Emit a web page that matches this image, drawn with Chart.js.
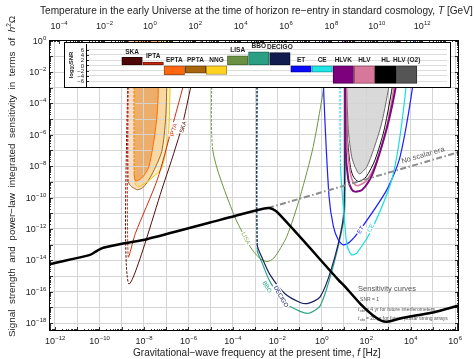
<!DOCTYPE html>
<html>
<head>
<meta charset="utf-8">
<script src="https://cdn.jsdelivr.net/npm/chart.js@4.4.0/dist/chart.umd.min.js"></script>
<style>
  html, body { margin: 0; padding: 0; background: #fff; }
  #wrap { position: relative; width: 474px; height: 359px; }
  #main { position: absolute; left: 0; top: 0; }
  #inset { position: absolute; left: 64px; top: 42px; width: 385px; height: 44px; border: 1px solid #000; background: #fff; }
</style>
</head>
<body>
<div id="wrap">
  <canvas id="main" width="474" height="359"></canvas>
  <div id="inset"><canvas id="bars" width="385" height="44"></canvas></div>
</div>
<script>
const FONT = '"Liberation Sans", Arial, sans-serif';

// all curves as log10(f / Hz) and log10(h^2 Omega)
const blackLogF = [-12.27, -11.92, -10.42, -10.11, -9.83, -8.85, -7.87, -5.02, -3.9, -2.41, -2.02, 0.75, 1.06, 1.74, 2.3, 2.7, 3.0, 3.53, 4.3, 5.01, 6.18];
const blackLogO = [-14.25, -14.14, -13.65, -13.39, -13.2, -12.9, -12.65, -11.59, -11.17, -10.66, -10.9, -15.24, -15.69, -16.77, -17.5, -17.85, -17.9, -17.7, -17.5, -17.32, -16.88];

const noScalarLogF = [-2.41, 6.18];
const noScalarLogO = [-10.66, -7.1];

const skaLogF = [-8.70, -8.70, -7.05, -6.29, -5.87, -5.4];
const skaLogO = [0.1, -15.45, -8.87, -5.48, -2.82, 0.1];
const iptaLogF = [-8.71, -8.71, -8.38, -7.40, -6.73, -6.22, -5.75];
const iptaLogO = [0.1, -13.76, -12.27, -8.87, -5.5, -2.82, 0.1];
const eptaLogF = [-8.44, -8.44, -8.37, -8.10, -7.80, -7.58, -7.42, -7.36, -7.32];
const eptaLogO = [0.1, -8.5, -8.94, -8.76, -8.13, -6.64, -4.94, -3.5, 0.1];
const pptaLogF = [-8.70, -8.70, -8.55, -8.28, -8.0, -7.65, -7.20, -7.02, -6.97, -6.95];
const pptaLogO = [0.1, -9.0, -9.3, -9.5, -9.3, -8.55, -7.07, -4.94, -2.82, 0.1];
const nngLogF = [-8.40, -8.40, -8.25, -7.95, -7.60, -7.20, -6.90, -6.82, -6.80];
const nngLogO = [0.1, -9.1, -9.3, -9.1, -8.7, -8.13, -6.0, -2.82, 0.1];

const lisaLogF = [-4.90, -4.90, -3.98, -3.22, -2.8, -2.47, -2.15, -1.57, -0.97, -0.38, 0.15, 0.38];
const lisaLogO = [0.1, -6.96, -10.99, -13.12, -13.85, -14.08, -13.85, -12.48, -9.94, -6.75, -2.5, 0.1];
const bboLogF = [-2.90, -2.90, -2.68, -2.32, -1.65, -0.97, -0.57, -0.07, 0.45, 0.97, 1.05, 1.07];
const bboLogO = [0.1, -13.33, -14.16, -15.37, -16.71, -17.25, -17.37, -16.9, -14.73, -11.63, -10.15, 0.1];
const decigoLogF = [-2.90, -2.90, -2.68, -2.32, -1.65, -0.97, -0.61, -0.07, 0.45, 0.94, 1.03, 1.05];
const decigoLogO = [0.1, -13.01, -13.84, -14.92, -16.13, -16.68, -16.74, -16.33, -14.48, -11.61, -9.51, 0.1];

const etLogF = [0.05, 0.07, 0.33, 0.53, 0.75, 0.97, 1.25, 1.73, 2.93, 3.53, 4.13, 4.16];
const etLogO = [0.1, -2.5, -9.9, -11.85, -12.7, -13.01, -12.85, -12.06, -9.51, -7.39, -2.5, 0.1];
const ceLogF = [0.83, 0.85, 1.05, 1.15, 1.35, 1.6, 2.32, 3.23, 3.83, 3.85];
const ceLogO = [0.1, -8.0, -11.85, -13.1, -13.65, -13.5, -11.85, -8.45, -2.5, 0.1];
const hlvkLogF = [1.04, 1.08, 1.20, 1.34, 1.50, 1.82, 2.27, 2.72, 3.08, 3.38, 3.53];
const hlvkLogO = [0.1, -6.96, -8.87, -9.45, -9.62, -9.51, -8.55, -6.64, -4.73, -2.5, 0.1];
const hlvLogF = [1.08, 1.14, 1.28, 1.41, 1.60, 2.0, 2.45, 2.90, 3.30, 3.48];
const hlvLogO = [0.1, -6.32, -8.36, -9.0, -9.25, -8.94, -7.79, -5.69, -2.5, 0.1];
const hlLogF = [1.08, 1.14, 1.28, 1.41, 1.65, 2.0, 2.40, 2.81, 3.23, 3.44];
const hlLogO = [0.1, -5.69, -7.92, -8.62, -8.98, -8.68, -7.6, -5.69, -2.5, 0.1];
const o2LogF = [1.12, 1.12, 1.20, 1.35, 1.50, 1.70, 2.03, 2.33, 2.70, 3.08, 3.35];
const o2LogO = [0.1, -2.5, -5.69, -7.39, -8.04, -8.49, -8.03, -6.96, -5.26, -2.5, 0.1];

// axis ranges (log10) and labelled decades
const freqRange = [-12.27, 6.18];
const tempRange = [-4.44, 13.63];
const omegaRange = [-18.5, 0.04];
const freqLabels = [-12, -10, -8, -6, -4, -2, 0, 2, 4, 6];
const tempLabels = [-4, -2, 0, 2, 4, 6, 8, 10, 12];
const omegaLabels = [0, -2, -4, -6, -8, -10, -12, -14, -16, -18];

// labels written along the curves: text, log f, log Omega, angle
const curveTags = [
  ['IPTA', -6.67, -5.69, -75, '#d42a0c'],
  ['SKA', -6.24, -5.5, -75, '#5a0b0b'],
  ['LISA', -3.41, -12.59, 63, '#8aab5c'],
  ['BBO', -2.46, -15.69, 60, '#2ea486'],
  ['DECIGO', -1.83, -16.3, 60, '#1a2160'],
  ['ET', 1.75, -12.06, -56, '#1f1fff'],
  ['CE', 2.2, -11.93, -60, '#19d0d0']
];

// inset: log10 SNR ranges per experiment
const expNames = ['SKA', 'IPTA', 'EPTA', 'PPTA', 'NNG', 'LISA', 'BBO', 'DECIGO', 'ET', 'CE', 'HLVK', 'HLV', 'HL', 'HLV (O2)'];
const snrLow = [0, 0, -3.7, -3.0, -3.5, 0, 0, 0, -2.6, -2.6, -6.9, -6.9, -6.9, -6.9];
const snrHigh = [3.1, 1.3, 0, 0, 0, 3.7, 5.2, 4.9, 0, 0, 0, 0, 0, 0];
const snrTicks = [-6, -4, -2, 0, 2, 4, 6];
const barFill = ['#4d0707', '#c6280e', '#ff660f', '#a8650c', '#ffd21e', '#6a9141', '#2b9f84', '#131c4f', '#0a0aff', '#1fe6e6', '#7d007d', '#d7779a', '#000000', '#555555'];
const barEdge = ['#2a0303', '#7a1806', '#9a4a1a', '#6a4008', '#a88a30', '#4a6a2e', '#1c6a58', '#0a0f30', '#0000a0', '#109a9a', '#4d004d', '#8a4a60', '#000000', '#333333'];

const pts = (lf, lo) => lf.map((v, i) => ({ x: 10 ** v, y: 10 ** lo[i] }));
const wallDash = ctx => ctx.p0DataIndex === 0 ? [2.5, 1.5] : undefined;

function curve(label, lf, lo, color, width, extra) {
  return Object.assign({
    label, data: pts(lf, lo), borderColor: color, borderWidth: width,
    pointRadius: 0, fill: false, tension: 0.25
  }, extra || {});
}

const decades = (a, b) => { const out = []; for (let e = Math.ceil(a); e <= Math.floor(b); e++) out.push({ value: 10 ** e }); return out; };

function pow10(ctx, e, x, y, align) {
  const ex = e < 0 ? '\u2212' + (-e) : String(e);
  ctx.font = '9px ' + FONT;
  const w1 = ctx.measureText('10').width;
  ctx.font = '6px ' + FONT;
  const w2 = ctx.measureText(ex).width;
  const x0 = align === 'center' ? x - (w1 + w2) / 2 : x - w1 - w2;
  ctx.textAlign = 'left';
  ctx.textBaseline = 'alphabetic';
  ctx.font = '9px ' + FONT;
  ctx.fillText('10', x0, y);
  ctx.font = '6px ' + FONT;
  ctx.fillText(ex, x0 + w1 + 0.3, y - 4);
}

// rich text: segments [text, italic, shift, scale]
function rich(ctx, segs, x, y, width) {
  const measure = size => segs.reduce((w, s) => {
    ctx.font = (s[1] ? 'italic ' : '') + (size * (s[3] || 1)) + 'px ' + FONT;
    return w + ctx.measureText(s[0]).width;
  }, 0);
  const size = 10 * width / measure(10);
  let cx = x - width / 2;
  ctx.textAlign = 'left';
  ctx.textBaseline = 'middle';
  segs.forEach(s => {
    ctx.font = (s[1] ? 'italic ' : '') + (size * (s[3] || 1)) + 'px ' + FONT;
    ctx.fillText(s[0], cx, y + (s[2] || 0));
    cx += ctx.measureText(s[0]).width;
  });
}

function logMarks(ctx, scale, range, fixed, dir, vertical) {
  for (let e = Math.floor(range[0]); e <= Math.ceil(range[1]); e++) {
    for (let k = 1; k <= 9; k++) {
      const lv = e + Math.log10(k);
      if (lv < range[0] || lv > range[1]) continue;
      const p = Math.round(scale.getPixelForValue(10 ** lv)) + 0.5;
      const len = k === 1 ? 4 : 2;
      ctx.beginPath();
      if (vertical) { ctx.moveTo(fixed, p); ctx.lineTo(fixed + dir * len, p); }
      else { ctx.moveTo(p, fixed); ctx.lineTo(p, fixed + dir * len); }
      ctx.stroke();
    }
  }
}

const decor = {
  id: 'decor',
  beforeDatasetsDraw(chart) {
    const { ctx, scales: { x, y } } = chart;
    const px = x.getPixelForValue(10 ** 1.64);
    ctx.save();
    ctx.fillStyle = '#555';
    ctx.textAlign = 'left';
    ctx.textBaseline = 'alphabetic';
    ctx.font = '7.5px ' + FONT;
    ctx.fillText('Sensitivity curves', px, y.getPixelForValue(10 ** -15.94));
    ctx.font = '5px ' + FONT;
    ctx.fillText('SNR = 1', px + 2, y.getPixelForValue(10 ** -16.6));
    const notes = ['= 4 yr for future interferometers', '= 20 yr for future pulsar timing arrays'];
    [-17.22, -17.8].forEach((lo, i) => {
      const yy = y.getPixelForValue(10 ** lo);
      ctx.font = 'italic 5px ' + FONT;
      ctx.fillText('t', px, yy);
      ctx.font = '3.5px ' + FONT;
      ctx.fillText('obs', px + 1.6, yy + 1.2);
      ctx.font = '5px ' + FONT;
      ctx.fillText(' ' + notes[i], px + 6.5, yy);
    });
    ctx.restore();
  },
  afterDatasetsDraw(chart) {
    const { ctx, chartArea: a, scales: { x, xT, y } } = chart;
    ctx.save();
    // curve labels with white background
    ctx.textAlign = 'center';
    ctx.textBaseline = 'middle';
    curveTags.forEach(t => {
      const cx = x.getPixelForValue(10 ** t[1]);
      const cy = y.getPixelForValue(10 ** t[2]);
      ctx.save();
      ctx.translate(cx, cy);
      ctx.rotate(t[3] * Math.PI / 180);
      ctx.font = '6px ' + FONT;
      const w = ctx.measureText(t[0]).width;
      ctx.fillStyle = '#fff';
      ctx.fillRect(-w / 2 - 1, -3.5, w + 2, 7);
      ctx.fillStyle = t[4];
      ctx.fillText(t[0], 0, 0.3);
      ctx.restore();
    });
    // no scalar era
    ctx.save();
    ctx.translate(x.getPixelForValue(10 ** 4.56), y.getPixelForValue(10 ** -7.31));
    ctx.rotate(-16 * Math.PI / 180);
    ctx.font = '7.5px ' + FONT;
    ctx.fillStyle = '#555';
    ctx.fillText('No scalar era', 0, 0);
    ctx.restore();

    // frame and tick marks
    ctx.strokeStyle = '#000';
    ctx.lineWidth = 1;
    ctx.strokeRect(a.left + 0.5, a.top + 0.5, a.right - a.left - 1, a.bottom - a.top - 1);
    ctx.lineWidth = 0.8;
    logMarks(ctx, x, freqRange, a.bottom, -1, false);
    logMarks(ctx, xT, tempRange, a.top, 1, false);
    logMarks(ctx, y, omegaRange, a.left, 1, true);
    logMarks(ctx, y, omegaRange, a.right, -1, true);

    // tick labels
    ctx.fillStyle = '#222';
    freqLabels.forEach(e => pow10(ctx, e, x.getPixelForValue(10 ** e), 344, 'center'));
    tempLabels.forEach(e => pow10(ctx, e, xT.getPixelForValue(10 ** e), 28.5, 'center'));
    omegaLabels.forEach(e => pow10(ctx, e, 46, y.getPixelForValue(10 ** e) + 3, 'right'));

    // axis titles
    ctx.fillStyle = '#222';
    rich(ctx, [['Gravitational\u2212wave frequency at the present time, '], ['f', true], [' [Hz]']], 257, 353, 248);
    rich(ctx, [['Temperature in the early Universe at the time of horizon re\u2212entry in standard cosmology, '], ['T', true], [' [GeV]']], 256.5, 11, 433);
    ctx.save();
    ctx.translate(12, 176);
    ctx.rotate(-Math.PI / 2);
    rich(ctx, [['Signal  strength  and  power\u2212law  integrated  sensitivity  in  terms  of  '], ['h', true], ['2', false, -3, 0.65], ['\u03a9']], 0, 0, 322);
    ctx.restore();
    ctx.restore();
  }
};

const datasets = [
  curve('black', blackLogF, blackLogO, '#000', 2.5),
  curve('No scalar era', noScalarLogF, noScalarLogO, '#8c8c8c', 2, { borderDash: [6, 2.5, 1.5, 2.5] }),
  curve('HLVK', hlvkLogF, hlvkLogO, '#7d0a7d', 2),
  curve('HLV', hlvLogF, hlvLogO, '#d8789a', 1.5),
  curve('HL', hlLogF, hlLogO, '#111', 1),
  curve('HLV (O2)', o2LogF, o2LogO, '#6a6a6a', 1, { fill: 'end', backgroundColor: 'rgba(120,120,120,0.28)' }),
  curve('CE', ceLogF, ceLogO, '#19e0e0', 1.2, { segment: { borderDash: wallDash } }),
  curve('ET', etLogF, etLogO, '#1f1fff', 1.2),
  curve('DECIGO', decigoLogF, decigoLogO, '#1a2160', 1.2, { segment: { borderDash: wallDash } }),
  curve('BBO', bboLogF, bboLogO, '#2ea486', 1.2, { segment: { borderDash: wallDash } }),
  curve('LISA', lisaLogF, lisaLogO, '#6e9440', 1, { segment: { borderDash: wallDash } }),
  curve('IPTA', iptaLogF, iptaLogO, '#d42a0c', 1, { segment: { borderDash: wallDash } }),
  curve('SKA', skaLogF, skaLogO, '#5a0b0b', 1, { segment: { borderDash: wallDash } }),
  curve('EPTA', eptaLogF, eptaLogO, '#ff6a00', 1, { fill: 'end', backgroundColor: 'rgba(222,120,40,0.45)', segment: { borderDash: wallDash } }),
  curve('NNG', nngLogF, nngLogO, '#f2c400', 1, { fill: 'end', backgroundColor: 'rgba(248,210,90,0.35)', segment: { borderDash: wallDash } }),
  curve('PPTA', pptaLogF, pptaLogO, '#a4661c', 1, { fill: 'end', backgroundColor: 'rgba(238,160,110,0.35)', segment: { borderDash: wallDash } })
];

new Chart(document.getElementById('main'), {
  type: 'line',
  data: { datasets },
  options: {
    responsive: false,
    animation: false,
    layout: { padding: { right: 15 } },
    plugins: { legend: { display: false }, tooltip: { enabled: false }, filler: { drawTime: 'beforeDraw' } },
    scales: {
      x: {
        type: 'logarithmic', position: 'bottom',
        min: 10 ** freqRange[0], max: 10 ** freqRange[1],
        afterBuildTicks: s => { s.ticks = decades(freqRange[0], freqRange[1]); },
        afterFit: s => { s.height = 28; },
        ticks: { display: false },
        grid: { color: '#d4d4d4', drawTicks: false },
        border: { display: false }
      },
      xT: {
        type: 'logarithmic', axis: 'x', position: 'top',
        min: 10 ** tempRange[0], max: 10 ** tempRange[1],
        afterBuildTicks: s => { s.ticks = decades(tempRange[0], tempRange[1]); },
        afterFit: s => { s.height = 40; },
        ticks: { display: false },
        grid: { display: false },
        border: { display: false }
      },
      y: {
        type: 'logarithmic', position: 'left',
        min: 10 ** omegaRange[0], max: 10 ** omegaRange[1],
        afterBuildTicks: s => { s.ticks = decades(omegaRange[0], omegaRange[1]); },
        afterFit: s => { s.width = 49; },
        ticks: { display: false },
        grid: { color: '#d4d4d4', drawTicks: false },
        border: { display: false }
      }
    }
  },
  plugins: [decor]
});

// inset with SNR bars
const insetDecor = {
  id: 'insetDecor',
  afterDatasetsDraw(chart) {
    const { ctx, scales: { x, y } } = chart;
    ctx.save();
    ctx.fillStyle = '#222';
    ctx.textAlign = 'center';
    ctx.textBaseline = 'middle';
    ctx.font = 'bold 6.5px ' + FONT;
    expNames.forEach((n, i) => {
      ctx.fillText(n, x.getPixelForValue(i), y.getPixelForValue(Math.max(snrHigh[i], 0)) - 5.5);
    });
    // axis tick labels
    ctx.textAlign = 'right';
    ctx.font = '6px ' + FONT;
    snrTicks.forEach(v => ctx.fillText(String(v).replace('-', '\u2212'), 19, y.getPixelForValue(v) + 0.5));
    ctx.strokeStyle = '#000';
    ctx.lineWidth = 0.8;
    snrTicks.forEach(v => {
      const yy = Math.round(y.getPixelForValue(v)) + 0.5;
      ctx.beginPath(); ctx.moveTo(21, yy); ctx.lineTo(24, yy); ctx.stroke();
    });
    // y title log10 SNR
    ctx.translate(6, 22);
    ctx.rotate(-Math.PI / 2);
    ctx.textAlign = 'left';
    const parts = [['log', 0, 6], ['10', 1.8, 4.5], ['SNR', 0, 6]];
    const tw = parts.reduce((w, p) => { ctx.font = 'bold ' + p[2] + 'px ' + FONT; return w + ctx.measureText(p[0]).width; }, 0);
    let cx = -tw / 2;
    parts.forEach(p => {
      ctx.font = 'bold ' + p[2] + 'px ' + FONT;
      ctx.fillText(p[0], cx, p[1]);
      cx += ctx.measureText(p[0]).width;
    });
    ctx.restore();
  }
};

new Chart(document.getElementById('bars'), {
  type: 'bar',
  data: {
    datasets: [{
      data: expNames.map((n, i) => ({ x: i, y: [snrLow[i], snrHigh[i]] })),
      backgroundColor: barFill,
      borderColor: barEdge,
      borderWidth: 1,
      borderSkipped: false,
      barThickness: 20.5
    }]
  },
  options: {
    responsive: false,
    animation: false,
    layout: { padding: { top: 1, bottom: 1, right: 3, left: 0 } },
    plugins: { legend: { display: false }, tooltip: { enabled: false } },
    scales: {
      x: { type: 'linear', min: -0.96, max: 13.69, display: false },
      y: {
        min: -7.9, max: 8.2,
        afterBuildTicks: s => { s.ticks = snrTicks.map(v => ({ value: v })); },
        afterFit: s => { s.width = 21; s.paddingTop = 0; s.paddingBottom = 0; },
        ticks: { display: false },
        grid: { color: '#dddddd', drawTicks: false },
        border: { color: '#000' }
      }
    }
  },
  plugins: [insetDecor]
});
</script>
</body>
</html>
